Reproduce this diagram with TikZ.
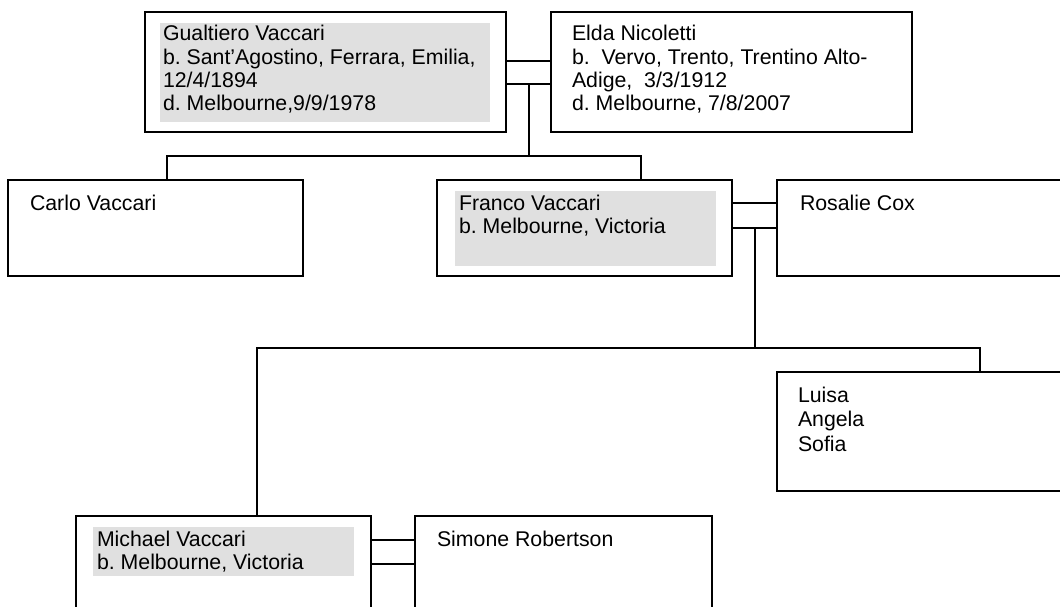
\documentclass[tikz,border=0pt]{standalone}
\usepackage{fontspec}
\setmainfont{Liberation Sans}
\usetikzlibrary{calc}
\definecolor{shade}{RGB}{224,224,224}
\frenchspacing
% strut fixing the top of every text block 17pt above its first baseline
\newcommand{\topstrut}{\rule{0pt}{17pt}}
\begin{document}
\begin{tikzpicture}[x=1pt, y=-1pt, line width=2pt,
  box/.style={draw=black, anchor=north west, inner sep=0pt, outer sep=0pt},
  shadebox/.style={fill=shade, anchor=north west, inner sep=0pt, outer sep=0pt},
  label/.style={anchor=north west, align=left, inner sep=0pt, outer sep=0pt,
    text=black, font=\fontsize{21.3}{23.3}\selectfont},
  link/.style={draw=black, line width=2pt}]
\useasboundingbox (0,0) rectangle (1060,607);
\clip (0,0) rectangle (1060,607);

% shaded backgrounds behind the Vaccari line
\node[shadebox, minimum width=330pt, minimum height=99pt] (gualbg) at (160,23) {};
\node[shadebox, minimum width=261pt, minimum height=75pt] (francobg) at (455,191) {};
\node[shadebox, minimum width=261pt, minimum height=49pt] (michaelbg) at (93,527) {};

% person boxes
\node[box, minimum width=361pt, minimum height=120pt] (gual) at (145,12) {};
\node[box, minimum width=361pt, minimum height=120pt] (elda) at (551,12) {};
\node[box, minimum width=295pt, minimum height=96pt] (carlo) at (8,180) {};
\node[box, minimum width=295pt, minimum height=96pt] (franco) at (437,180) {};
\node[box, minimum width=300pt, minimum height=96pt] (rosalie) at (777,180) {};
\node[box, minimum width=300pt, minimum height=119pt] (luisa) at (777,372) {};
\node[box, minimum width=295pt, minimum height=120pt] (michael) at (76,516) {};
\node[box, minimum width=297pt, minimum height=120pt] (simone) at (415,516) {};

% texts (position = first baseline minus 17pt)
\node[label] (gualtx) at (163,24) {\topstrut Gualtiero Vaccari\\b. Sant’Agostino, Ferrara, Emilia,\\12/4/1894\\d. Melbourne,9/9/1978};
\node[label] (eldatx) at (572,24) {\topstrut Elda Nicoletti\\b.\ \ Vervo, Trento, Trentino Alto-\\Adige,\ \ 3/3/1912\\d. Melbourne, 7/8/2007};
\node[label] (carlotx) at (30,193) {\topstrut Carlo Vaccari};
\node[label] (francotx) at (459,193) {\topstrut Franco Vaccari\\b. Melbourne, Victoria};
\node[label] (rosalietx) at (800,193) {\topstrut Rosalie Cox};
\node[label, font=\fontsize{21.3}{24.5}\selectfont] (luisatx) at (798,385) {\topstrut Luisa\\Angela\\Sofia};
\node[label] (michaeltx) at (97,529) {\topstrut Michael Vaccari\\b. Melbourne, Victoria};
\node[label] (simonetx) at (437,529) {\topstrut Simone Robertson};

% Gualtiero -- Elda marriage and their children
\draw[link] ([yshift=-49pt]gual.north east) -- ([yshift=-49pt]elda.north west);
\draw[link] ([yshift=-72pt]gual.north east) -- ([yshift=-72pt]elda.north west);
\coordinate (m1) at ($([yshift=-72pt]gual.north east)!0.5!([yshift=-72pt]elda.north west)$);
\coordinate (bar1) at ([shift={(204pt,24pt)}]franco.north west);
\draw[link] (m1) -- (m1 |- bar1);
\draw[link] ([xshift=159pt]carlo.north west) |- (bar1) -- ([xshift=204pt]franco.north west);

% Franco -- Rosalie marriage and their children
\draw[link] ([yshift=-23pt]franco.north east) -- ([yshift=-23pt]rosalie.north west);
\draw[link] ([yshift=-48pt]franco.north east) -- ([yshift=-48pt]rosalie.north west);
\coordinate (m2) at ($([yshift=-48pt]franco.north east)!0.5!([yshift=-48pt]rosalie.north west)$);
\coordinate (bar2) at ([shift={(203pt,24pt)}]luisa.north west);
\draw[link] (m2) -- (m2 |- bar2);
\draw[link] ([xshift=181pt]michael.north west) |- (bar2) -- ([xshift=203pt]luisa.north west);

% Michael -- Simone marriage
\draw[link] ([yshift=-24pt]michael.north east) -- ([yshift=-24pt]simone.north west);
\draw[link] ([yshift=-48pt]michael.north east) -- ([yshift=-48pt]simone.north west);
\end{tikzpicture}
\end{document}
